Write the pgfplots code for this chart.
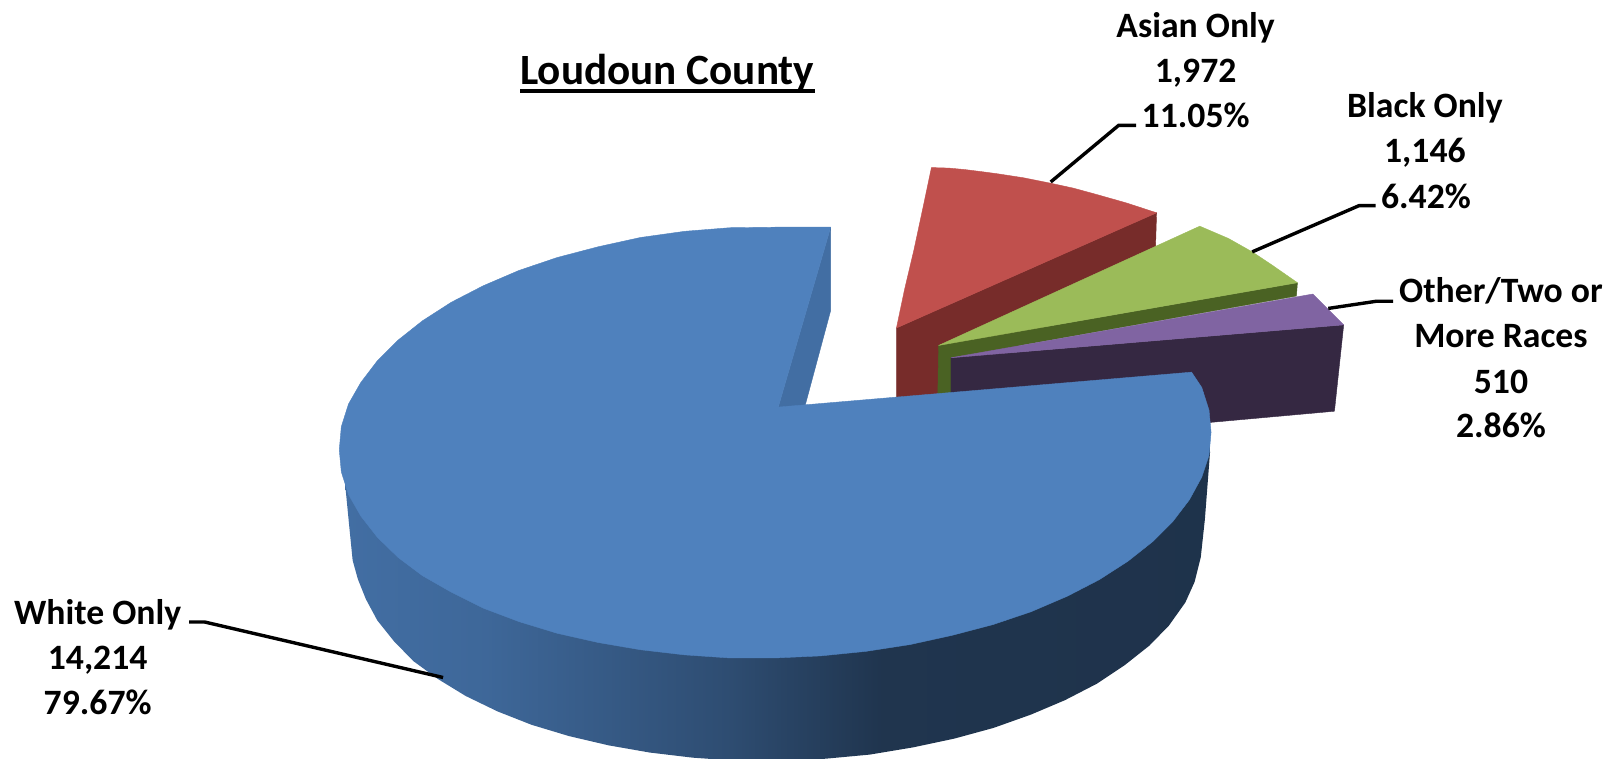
\documentclass[border=0pt]{standalone}
\usepackage{pgfplots}
\pgfplotsset{compat=1.18}
\usepackage{fontspec}
\setmainfont{Carlito}
\definecolor{pieblue}{RGB}{79,129,189}
\definecolor{pieblueback}{RGB}{66,110,163}
\definecolor{piered}{RGB}{192,80,77}
\definecolor{pieredside}{RGB}{119,44,42}
\definecolor{piegreen}{RGB}{155,187,89}
\definecolor{piegreenside}{RGB}{74,98,35}
\definecolor{piepurple}{RGB}{128,100,162}
\definecolor{piepurpleside}{RGB}{53,40,66}
% rim of the big slice, stops at 25-75bp span the path's box
\pgfdeclarehorizontalshading{pieside}{100bp}{
  color(0bp)=(pieblueback);
  color(25bp)=(pieblueback);
  color(33bp)=(pieblueback!94!black);
  color(47bp)=(pieblueback!70!black);
  color(56bp)=(pieblueback!48!black);
  color(75bp)=(pieblueback!46!black);
  color(100bp)=(pieblueback!46!black)}
\tikzset{
  lab/.style={font=\bfseries\fontsize{34.7}{44.5}\selectfont, align=center, anchor=base, inner sep=0pt},
  lead/.style={black, line width=3.3pt, line join=miter},
  face/.style={fill=#1, draw=#1, line width=0.4pt, line join=round},
}
\begin{document}
\begin{tikzpicture}
\begin{axis}[
  width=1568pt, height=738pt, scale only axis,
  xmin=0, xmax=1568, ymin=0, ymax=738, y dir=reverse,
  axis lines=none, clip=true,
]
\path (axis cs:0,0) rectangle (axis cs:1568,738);
% exploded slices, back to front
\addplot[face=pieredside] coordinates {(1125,207) (1124,240) (1000,330) (913,395) (872,395) (872,319)} -- cycle;
\addplot[face=piered] coordinates {(906,163) (923,163.5) (939,165) (955,167) (970,169) (996,173) (1021,178)
  (1044,183) (1066,189) (1096,197.5) (1125,207) (872,319) (880,281) (889,243) (898,201)} -- cycle;
\addplot[face=piegreenside] coordinates {(1262,275) (1261,288) (925,348) (925,395) (912,395) (913,336)} -- cycle;
\addplot[face=piegreen] coordinates {(1167,220) (1195,232) (1218,245) (1239,259) (1262,275) (913,336)} -- cycle;
\addplot[face=piepurpleside] coordinates {(1307,316) (1298,400) (1176,411) (1100,420) (925,420) (925,348)} -- cycle;
\addplot[face=piepurple] coordinates {(1277,286) (1307,316) (925,348)} -- cycle;
% big slice: rim, notch wall, top face
\addplot[draw=none, shading=pieside] coordinates {
  (336,440) (336,474) (340,515) (343,545) (348,563) (356,583) (367,603.5) (383,623.5) (402,643)
  (426,660.5) (453,677) (484,692) (517,705) (553.5,716) (592,725) (632,732) (674,737)
  (717,740) (760,740) (803,738) (846,734) (888,727) (928,718.5) (966.5,708) (1003,695)
  (1036,681) (1067,665) (1094,647) (1118,628) (1137,608.5) (1153,586) (1162,566)
  (1168,542) (1172,505) (1177,440) (1176,425)} -- cycle;
\addplot[face=pieblueback] coordinates {(808,221) (808,302) (783,395) (757,396)} -- cycle;
\addplot[face=pieblue] coordinates {
  (808,221) (754,221) (710,221.5) (666,225) (623,231) (582,240) (542,250.5) (505,263) (470,278)
  (439,294) (411,312) (387,331) (367,351) (351,372) (339,393) (332,415) (330,437.5)
  (332,459) (339,481) (351,502) (367,522.5) (387,542) (411,560) (439,576) (470,591.5)
  (505,604.7) (542,616) (582,625) (623,632) (666,637) (710,640) (754,640)
  (798,638) (842,633.6) (885,627) (926,618) (966,607.5) (1003,595) (1038,580) (1069,564)
  (1097,546) (1121,527) (1141,507) (1157,486) (1169,464) (1176,443) (1178,420.5)
  (1176,399) (1169,377) (1159,362) (757,396)} -- cycle;
% leaders
\addplot[lead] coordinates {(1022,177) (1088,122) (1105,122)};
\addplot[lead] coordinates {(1218,245) (1322,200) (1338,200)};
\addplot[lead] coordinates {(1292,300) (1339,293) (1355,293)};
\addplot[lead] coordinates {(431,659) (199,605) (184,605)};
\addplot[black, line width=4.6pt] coordinates {(506,88.5) (793,88.5)};
% labels
\node[lab] at (axis cs:649,82) {\fontsize{42}{44}\selectfont Loudoun County};
\node[lab] at (axis cs:1163,36.5) {Asian Only};
\node[lab] at (axis cs:1163,80.5) {1,972};
\node[lab] at (axis cs:1163,124.5) {11.05\%};
\node[lab] at (axis cs:1386,114.5) {Black Only};
\node[lab] at (axis cs:1386,158.5) {1,146};
\node[lab] at (axis cs:1387,202.5) {6.42\%};
\node[lab] at (axis cs:1460,294) {Other/Two or};
\node[lab] at (axis cs:1460,338) {More Races};
\node[lab] at (axis cs:1460,383) {510};
\node[lab] at (axis cs:1460,426) {2.86\%};
\node[lab] at (axis cs:95,607) {White Only};
\node[lab] at (axis cs:95,651) {14,214};
\node[lab] at (axis cs:95,695) {79.67\%};
\end{axis}
\end{tikzpicture}
\end{document}
